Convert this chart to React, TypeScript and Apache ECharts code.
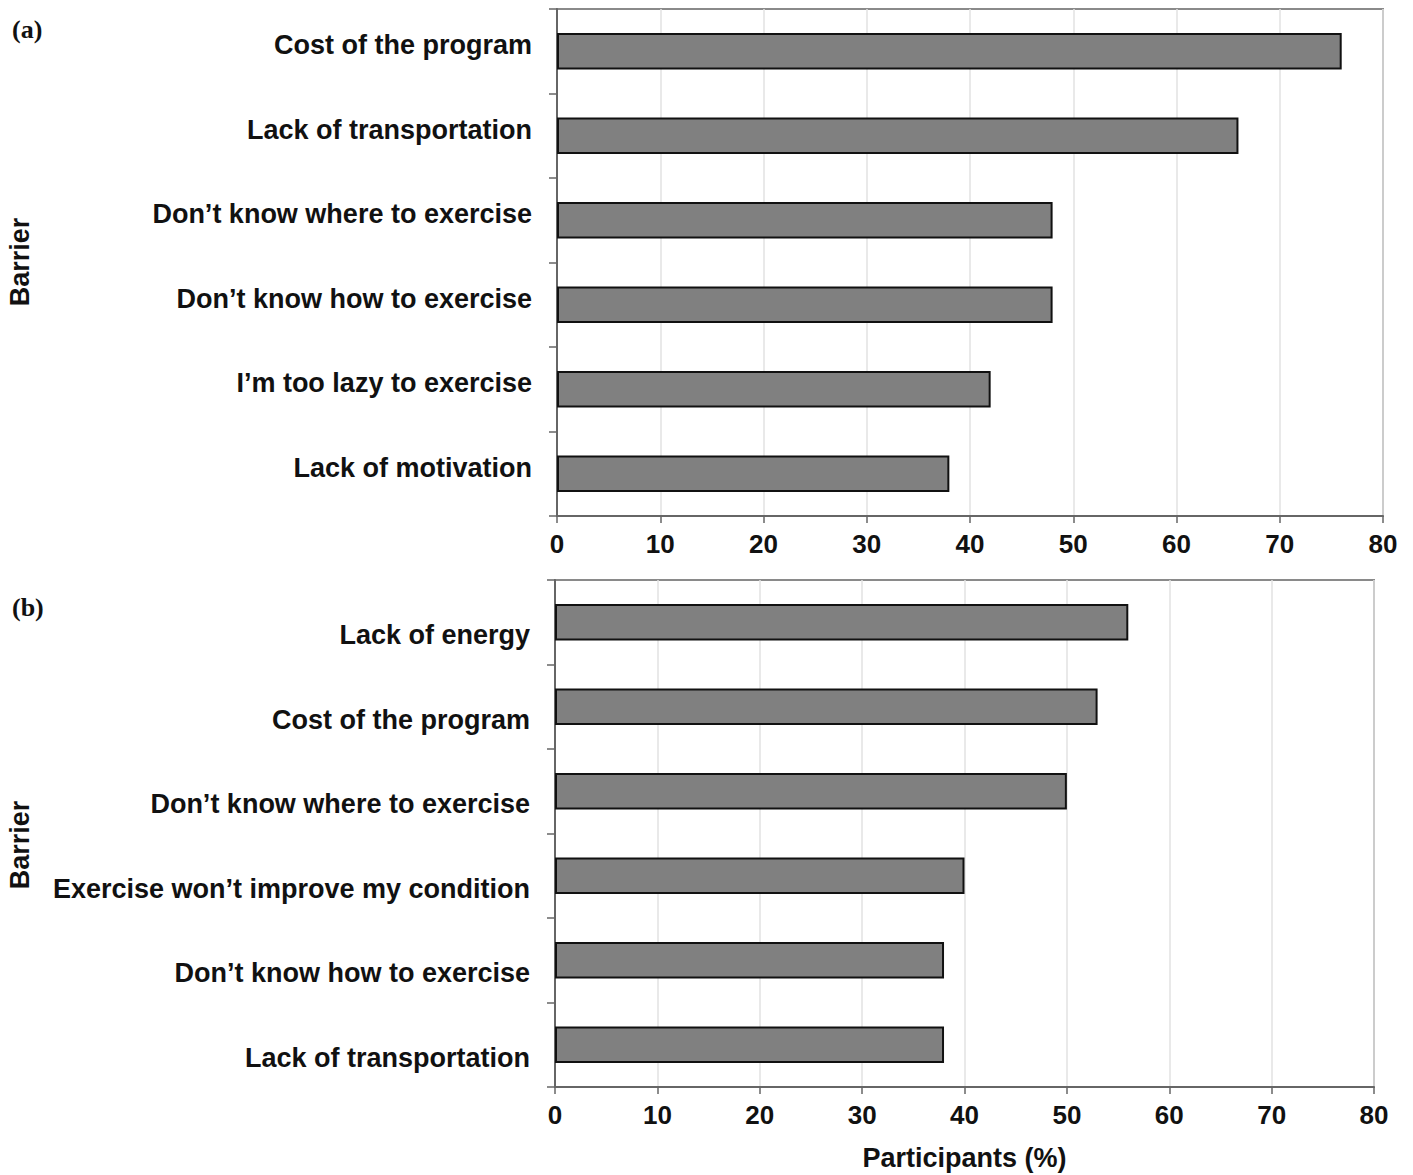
import React, { useEffect, useRef } from "react";
import * as echarts from "echarts";

const categoriesA = [
  "Cost of the program",
  "Lack of transportation",
  "Don\u2019t know where to exercise",
  "Don\u2019t know how to exercise",
  "I\u2019m too lazy to exercise",
  "Lack of motivation",
];
const valuesA = [76, 66, 48, 48, 42, 38];

const categoriesB = [
  "Lack of energy",
  "Cost of the program",
  "Don\u2019t know where to exercise",
  "Exercise won\u2019t improve my condition",
  "Don\u2019t know how to exercise",
  "Lack of transportation",
];
const valuesB = [56, 53, 50, 40, 38, 38];

const xTicks = [0, 10, 20, 30, 40, 50, 60, 70, 80];

const FONT = "'Liberation Sans', Arial, sans-serif";

export default function App() {
  const ref = useRef<HTMLDivElement>(null);
  useEffect(() => {
    if (!ref.current) return;
    const chart = echarts.init(ref.current, null, { renderer: "svg" });
    const mkX = (gi: number) => ({
      type: "value",
      gridIndex: gi,
      min: xTicks[0],
      max: xTicks[xTicks.length - 1],
      interval: 10,
      axisLine: { show: true, lineStyle: { color: "#666", width: 2 } },
      axisTick: { show: true, length: 7, lineStyle: { color: "#666", width: 1.5 } },
      axisLabel: { color: "#111", fontSize: 26, fontWeight: "bold", fontFamily: FONT, margin: 15 },
      splitLine: { show: true, lineStyle: { color: "#e2e2e2", width: 1.5 } },
      name: gi === 1 ? "Participants (%)" : "",
      nameLocation: "middle",
      nameGap: 57,
      nameTextStyle: { color: "#111", fontSize: 27, fontWeight: "bold", fontFamily: FONT },
    });
    const mkY = (gi: number, cats: string[], va: string, lh: number) => ({
      type: "category",
      gridIndex: gi,
      data: cats,
      inverse: true,
      axisLine: { show: true, lineStyle: { color: "#666", width: 2 } },
      axisTick: { show: true, length: 8, lineStyle: { color: "#666", width: 1.5 } },
      axisLabel: {
        color: "#111",
        fontSize: 27,
        fontWeight: "bold",
        fontFamily: FONT,
        margin: 25,
        verticalAlign: va,
        lineHeight: lh,
      },
      splitLine: { show: false },
    });
    const barStyle = { color: "#808080", borderColor: "#111", borderWidth: 2 };
    chart.setOption({
      animation: false,
      backgroundColor: "#fff",
      grid: [
        { left: 557, top: 9, width: 826, height: 507, show: true, borderColor: "#8a8a8a", borderWidth: 2, backgroundColor: "transparent" },
        { left: 555, top: 580, width: 819, height: 507, show: true, borderColor: "#8a8a8a", borderWidth: 2, backgroundColor: "transparent" },
      ],
      xAxis: [mkX(0), mkX(1)],
      yAxis: [mkY(0, categoriesA, "bottom", 12), mkY(1, categoriesB, "top", 26)],
      series: [
        { type: "bar", xAxisIndex: 0, yAxisIndex: 0, data: valuesA, barWidth: "43%", itemStyle: barStyle },
        { type: "bar", xAxisIndex: 1, yAxisIndex: 1, data: valuesB, barWidth: "43%", itemStyle: barStyle },
      ],
      graphic: [
        { type: "text", left: 12, top: 16, style: { text: "(a)", font: "bold 26px 'Liberation Serif', 'Times New Roman', serif", fill: "#111" } },
        { type: "text", left: 12, top: 594, style: { text: "(b)", font: "bold 26px 'Liberation Serif', 'Times New Roman', serif", fill: "#111" } },
        { type: "text", x: 20, y: 262, rotation: Math.PI / 2, style: { text: "Barrier", font: `bold 27px ${FONT}`, fill: "#111", align: "center", verticalAlign: "middle" } },
        { type: "text", x: 20, y: 845, rotation: Math.PI / 2, style: { text: "Barrier", font: `bold 27px ${FONT}`, fill: "#111", align: "center", verticalAlign: "middle" } },
      ],
    });
    return () => chart.dispose();
  }, []);
  return <div ref={ref} style={{ position: "absolute", left: 0, top: 0, width: 1413, height: 1175 }} />;
}
